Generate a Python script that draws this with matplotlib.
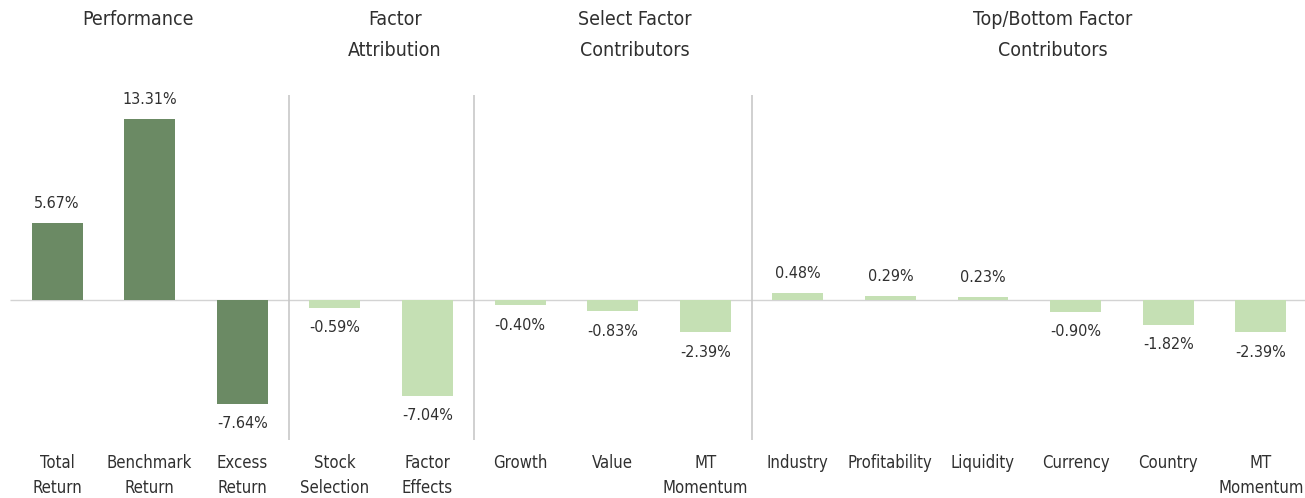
import numpy as np
import matplotlib.pyplot as plt
from matplotlib import font_manager

# Data
categories = ["Total\nReturn", "Benchmark\nReturn", "Excess\nReturn",
              "Stock\nSelection", "Factor\nEffects",
              "Growth", "Value", "MT\nMomentum",
              "Industry", "Profitability", "Liquidity", "Currency", "Country", "MT\nMomentum"]
values = [5.67, 13.31, -7.64,
          -0.59, -7.04,
          -0.40, -0.83, -2.39,
          0.48, 0.29, 0.23, -0.90, -1.82, -2.39]
groups = ["Performance", "Factor\nAttribution", "Select Factor\nContributors",
          "Top/Bottom Factor\nContributors"]
group_sizes = [3, 2, 3, 6]

dark = "#6b8a64"
light = "#c5e0b4"
txt = "#303030"

names = {f.name for f in font_manager.fontManager.ttflist}
fam = ["Liberation Sans Narrow", "DejaVu Sans"] if "Liberation Sans Narrow" in names else ["DejaVu Sans"]
plt.rcParams['font.family'] = fam
plt.rcParams['font.stretch'] = 'condensed'

fig = plt.figure(figsize=(13.05, 4.98), dpi=100)
ax = fig.add_axes([0, 0, 1, 1])
ax.set_xlim(-0.616, 13.477)
ax.set_ylim(-14.56, 22.06)
ax.axis('off')

x = np.arange(len(values))
colors = [dark] * group_sizes[0] + [light] * (len(values) - group_sizes[0])
ax.bar(x, values, width=0.55, color=colors, zorder=2)
ax.hlines(0, -0.51, 13.5, color="#d3d3d3", lw=1, zorder=1)

# value labels
for xi, v in zip(x, values):
    if v >= 0:
        ax.text(xi, v + 0.9, f"{v:.2f}%", ha='center', va='bottom', fontsize=11.5, color=txt)
    else:
        ax.text(xi, v - 0.9, f"{v:.2f}%", ha='center', va='top', fontsize=11.5, color=txt)

# category labels
for xi, c in zip(x, categories):
    ax.text(xi, -11.3, c, ha='center', va='top', fontsize=12, color=txt, linespacing=1.5)

# separators and group headers
edges = np.cumsum(group_sizes)
for e in edges[:-1]:
    ax.vlines(e - 0.5, -10.3, 15.1, color="#c8c8c8", lw=1.2, zorder=1)

header_x = [0.87, 3.65, 6.24, 10.75]
for hx, g in zip(header_x, groups):
    ax.text(hx, 21.3, g, ha='center', va='top', fontsize=14, color=txt, linespacing=1.75)

fig.savefig("out.png", dpi=100)
